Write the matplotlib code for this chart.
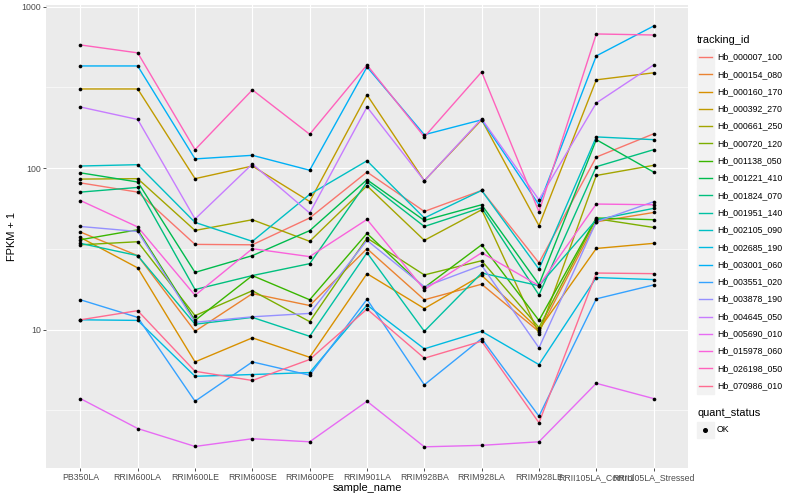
import numpy as np
import matplotlib
matplotlib.use('Agg')
import matplotlib.pyplot as plt
from matplotlib.patches import Rectangle
from matplotlib.lines import Line2D
from matplotlib.ticker import FixedLocator, NullFormatter

plt.rcParams['font.family'] = ['Liberation Sans', 'DejaVu Sans']

samples = ['PB350LA', 'RRIM600LA', 'RRIM600LE', 'RRIM600SE', 'RRIM600PE',
           'RRIM901LA', 'RRIM928BA', 'RRIM928LA', 'RRIM928LE',
           'RRII105LA_Control', 'RRII105LA_Stressed']

# FPKM + 1, one list per gene
hb_000007_100 = [81, 71, 33.7, 33.5, 49.1, 94.5, 53.9, 72.7, 25.9, 117, 163]
hb_000154_080 = [40.2, 28.7, 9.76, 16.7, 14.1, 31.7, 15.3, 19.1, 9.72, 46.5, 53.1]
hb_000160_170 = [37.2, 24.1, 6.31, 8.89, 6.74, 22.2, 13.5, 21.7, 10.0, 31.8, 34.2]
hb_000392_270 = [309, 309, 86, 103, 62.1, 284, 83.5, 199, 44, 352, 389]
hb_000661_250 = [85.5, 86, 41.1, 47.9, 35.2, 77.7, 35.7, 55.2, 9.45, 90, 104]
hb_000720_120 = [33.5, 35, 12.2, 17.4, 11.2, 36.9, 21.8, 26.7, 10.3, 48.6, 42.9]
hb_001138_050 = [36, 41.5, 11.4, 21.6, 15.3, 39.4, 18.2, 33.5, 11.4, 49.1, 47.9]
hb_001221_410 = [93.5, 82, 22.6, 28.7, 41, 84.7, 47.4, 59.3, 19, 150, 94.5]
hb_001824_070 = [71, 75.9, 17.7, 21.6, 25.6, 82, 43.5, 56.8, 16.4, 102, 130]
hb_001951_140 = [34.2, 28.7, 10.8, 11.9, 9.09, 29.9, 9.76, 22.4, 18.7, 47.9, 56.3]
hb_002105_090 = [103, 105, 46.1, 35.2, 68.7, 111, 49.1, 72.7, 23.7, 156, 150]
hb_002685_190 = [11.5, 11.4, 5.14, 5.27, 5.42, 14.2, 7.6, 9.76, 6.07, 21, 20.4]
hb_003001_060 = [429, 429, 114, 120, 97, 423, 161, 199, 59.3, 495, 758]
hb_003551_020 = [15.3, 11.9, 3.6, 6.31, 5.22, 15.4, 4.55, 8.8, 2.91, 15.5, 18.9]
hb_003878_190 = [43.5, 40.5, 11.1, 12, 12.6, 35.7, 18.4, 25, 7.71, 46.5, 61.9]
hb_004645_050 = [239, 200, 48.4, 106, 52.7, 239, 83.5, 202, 63.7, 253, 435]
hb_005690_010 = [3.74, 2.44, 1.89, 2.11, 2.02, 3.6, 1.88, 1.92, 2.02, 4.65, 3.74]
hb_015978_060 = [63, 43.2, 16.3, 31.7, 28.3, 48.1, 17.7, 29.9, 18.7, 59.9, 59.3]
hb_026198_050 = [579, 517, 130, 305, 162, 435, 156, 394, 53.7, 677, 667]
hb_070986_010 = [11.5, 13.1, 5.52, 4.84, 6.53, 13.4, 6.65, 8.47, 2.65, 22.4, 22.2]

tracking_ids = ['Hb_000007_100', 'Hb_000154_080', 'Hb_000160_170', 'Hb_000392_270',
                'Hb_000661_250', 'Hb_000720_120', 'Hb_001138_050', 'Hb_001221_410',
                'Hb_001824_070', 'Hb_001951_140', 'Hb_002105_090', 'Hb_002685_190',
                'Hb_003001_060', 'Hb_003551_020', 'Hb_003878_190', 'Hb_004645_050',
                'Hb_005690_010', 'Hb_015978_060', 'Hb_026198_050', 'Hb_070986_010']
series = [hb_000007_100, hb_000154_080, hb_000160_170, hb_000392_270,
          hb_000661_250, hb_000720_120, hb_001138_050, hb_001221_410,
          hb_001824_070, hb_001951_140, hb_002105_090, hb_002685_190,
          hb_003001_060, hb_003551_020, hb_003878_190, hb_004645_050,
          hb_005690_010, hb_015978_060, hb_026198_050, hb_070986_010]

# ggplot2 default hue palette, 20 levels
palette = ['#F8766D', '#EA8331', '#D89000', '#C09B00', '#A3A500', '#7CAE00',
           '#39B600', '#00BB4E', '#00BF7D', '#00C1A3', '#00BFC4', '#00BAE0',
           '#00B0F6', '#35A2FF', '#9590FF', '#C77CFF', '#E76BF3', '#FA62DB',
           '#FF62BC', '#FF6C91']

fig = plt.figure(figsize=(8, 5), dpi=100)
ax = fig.add_axes([46 / 800, 1 - 468 / 500, (688 - 46) / 800, (468 - 5) / 500])
ax.set_facecolor('#EBEBEB')

x = np.arange(len(samples))
for vals, col in zip(series, palette):
    ax.plot(x, vals, color=col, lw=1.0, zorder=3)
for vals in series:
    ax.scatter(x, vals, s=7, color='black', zorder=4, linewidths=0)

ax.set_yscale('log')
ax.set_ylim(1.39, 1023)
ax.set_xlim(-0.6, len(samples) - 0.4)
ax.set_yticks([10, 100, 1000], labels=['10', '100', '1000'])
ax.yaxis.set_minor_locator(FixedLocator([10 ** 0.5, 10 ** 1.5, 10 ** 2.5]))
ax.yaxis.set_minor_formatter(NullFormatter())
ax.set_xticks(x, labels=samples)

ax.grid(True, which='major', color='white', lw=0.8, zorder=0)
ax.grid(True, which='minor', axis='y', color='white', lw=0.4, zorder=0)
ax.set_axisbelow(True)
for s in ax.spines.values():
    s.set_visible(False)
ax.tick_params(which='major', length=2, width=0.6, color='#333333',
               labelcolor='#4D4D4D', labelsize=6.3, pad=1.5)
ax.tick_params(which='minor', length=0)

ax.set_xlabel('sample_name', fontsize=7.9, labelpad=1)
ax.set_ylabel('FPKM + 1', fontsize=7.9, labelpad=3)

# legends drawn by hand, ggplot style
def px(xp, yp):
    return xp / 800, 1 - yp / 500

fig.text(*px(697, 40), 'tracking_id', fontsize=7.9, va='center', ha='left')
for i, (name, col) in enumerate(zip(tracking_ids, palette)):
    yc = 57 + 17.3 * i
    x0, y0 = px(697, yc + 8.3)
    fig.patches.append(Rectangle((x0, y0), 16.6 / 800, 16.6 / 500,
                                 transform=fig.transFigure, color='#F2F2F2'))
    fig.lines.append(Line2D([699 / 800, 712 / 800], [1 - yc / 500] * 2,
                            transform=fig.transFigure, color=col, lw=1.0))
    fig.text(*px(717, yc), name, fontsize=6.3, va='center', ha='left')

fig.text(*px(697, 413), 'quant_status', fontsize=7.9, va='center', ha='left')
yc = 430
x0, y0 = px(697, yc + 8.3)
fig.patches.append(Rectangle((x0, y0), 16.6 / 800, 16.6 / 500,
                             transform=fig.transFigure, color='#F2F2F2'))
fig.lines.append(Line2D([705.3 / 800], [1 - yc / 500], transform=fig.transFigure,
                        marker='o', ms=2.6, color='black', lw=0))
fig.text(*px(717, yc), 'OK', fontsize=6.3, va='center', ha='left')

fig.savefig('out.png', dpi=100)
